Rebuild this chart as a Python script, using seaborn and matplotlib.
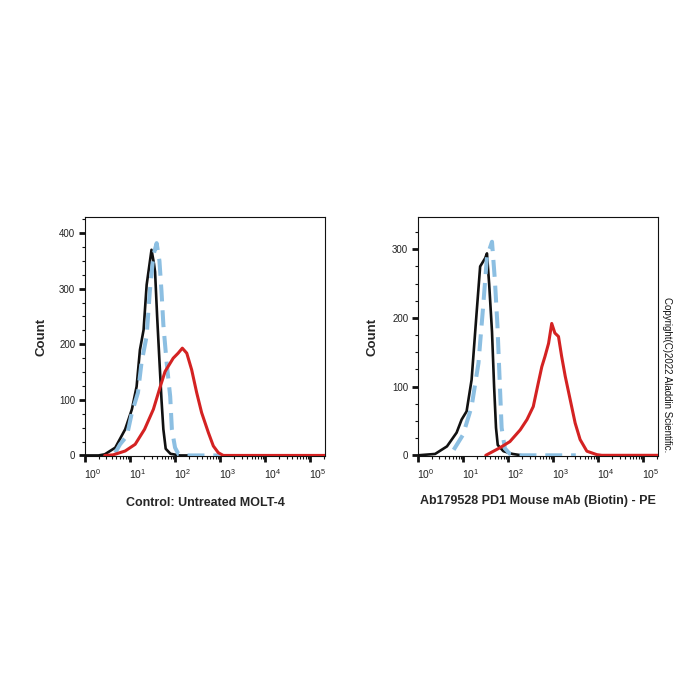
import numpy as np
import pandas as pd
import seaborn as sns
import matplotlib
matplotlib.use("Agg")
import matplotlib.pyplot as plt
from matplotlib.ticker import LogLocator, LogFormatterMathtext, MultipleLocator, NullFormatter
from matplotlib.transforms import ScaledTranslation

# ---------------- data (fluorescence intensity, cell count) ----------------
left_black_x = [1, 2.0, 2.75, 4.7, 7.8, 11, 14, 16.6, 20, 23.4, 30, 34, 36, 40, 45, 50, 55, 62, 79, 126, 200]
left_black_y = [0, 0, 2, 14, 47, 83, 124, 190, 226, 307, 370, 345, 330, 250, 170, 100, 47, 12, 3, 0, 0]

left_blue_x = [4.7, 6.0, 8.5, 11, 15, 18, 23.4, 27.5, 33, 39, 45, 50, 55, 65, 78, 85, 100, 120, 158, 1000]
left_blue_y = [5, 20, 35, 77, 113, 167, 215, 295, 360, 382, 350, 295, 235, 167, 106, 47, 14, 2, 0, 0]

left_red_x = [2.75, 4.2, 7.8, 13, 21, 33, 47, 60, 91, 117, 145, 182, 234, 302, 389, 550, 708, 912, 1175, 220000]
left_red_y = [0, 1, 8, 20, 47, 83, 124, 151, 175, 184, 193, 184, 154, 113, 77, 41, 17, 5, 0, 0]

right_black_x = [1, 2.4, 4.4, 7.2, 9.3, 12, 15.5, 20, 24, 31, 34, 38, 44, 49, 54, 59, 79, 126, 200]
right_black_y = [0, 2, 13, 33, 52, 64, 110, 207, 275, 287, 294, 250, 180, 100, 40, 15, 6, 2, 0]

right_blue_x = [6.2, 10, 15.5, 22, 28, 34, 44, 51, 58, 65, 72, 85, 110, 140, 3200]
right_blue_y = [8, 30, 71, 134, 217, 289, 311, 255, 190, 110, 40, 10, 2, 0, 0]

right_red_x = [32, 66, 110, 186, 263, 363, 468, 562, 661, 794, 933, 1096, 1318, 1549, 1862, 2399, 3090, 3981, 5623, 9333, 12000, 220000]
right_red_y = [0, 11, 20, 37, 52, 71, 105, 129, 144, 163, 192, 178, 173, 144, 115, 81, 47, 23, 6, 1, 0, 0]

left_xlabel = "Control: Untreated MOLT-4"
right_xlabel = "Ab179528 PD1 Mouse mAb (Biotin) - PE"
ylabel = "Count"
copyright_text = "Copyright(C)2022 Aladdin Scientific."

left_yticks = [0, 100, 200, 300, 400]
right_yticks = [0, 100, 200, 300]
xticks = [1e0, 1e1, 1e2, 1e3, 1e4, 1e5]

# ---------------- style ----------------
sns.set_style("ticks")
plt.rcParams["font.family"] = ["Liberation Sans", "DejaVu Sans"]
plt.rcParams["mathtext.default"] = "regular"

BLACK = "#111111"
BLUE = "#8cbfe2"
RED = "#d42222"

fig = plt.figure(figsize=(7, 7), dpi=100)
fig.patch.set_facecolor("white")

ax_l = fig.add_axes([85 / 700, 1 - 456 / 700, 240 / 700, 239 / 700])
ax_r = fig.add_axes([418 / 700, 1 - 456 / 700, 240 / 700, 239 / 700])


def draw_panel(ax, bx, by, ux, uy, rx, ry, ytop, yticks, xlabel, ylab_x, xlab_y):
    sns.lineplot(x=bx, y=by, ax=ax, color=BLACK, linewidth=1.9, sort=False, zorder=3)
    sns.lineplot(x=ux, y=uy, ax=ax, color=BLUE, linewidth=2.9, sort=False,
                 linestyle=(0, (4.2, 2.2)), zorder=4)
    sns.lineplot(x=rx, y=ry, ax=ax, color=RED, linewidth=2.2, sort=False, zorder=5)
    ax.set_xscale("log")
    ax.set_xlim(1, 10 ** 5.33)
    ax.set_ylim(-1, ytop)
    ax.set_xticks(xticks)
    ax.xaxis.set_major_formatter(LogFormatterMathtext())
    ax.xaxis.set_minor_locator(LogLocator(base=10, subs=np.arange(2, 10)))
    ax.xaxis.set_minor_formatter(NullFormatter())
    ax.set_yticks(yticks)
    ax.yaxis.set_minor_locator(MultipleLocator(25))
    for s in ax.spines.values():
        s.set_visible(True)
        s.set_linewidth(0.8)
        s.set_color("#111111")
    ax.tick_params(axis="both", which="major", direction="out", length=4, width=2.0,
                   labelsize=7, color="#111111", labelcolor="#222222")
    ax.tick_params(axis="y", which="major", pad=3)
    ax.tick_params(axis="x", which="major", pad=4, labelsize=7.5)
    ax.tick_params(axis="both", which="minor", direction="out", length=2.2, width=0.8,
                   color="#111111")
    offset = ScaledTranslation(-1 / 72, 0, fig.dpi_scale_trans)
    for lab in ax.get_xticklabels():
        lab.set_horizontalalignment("left")
        lab.set_transform(lab.get_transform() + offset)
    ax.set_xlabel(xlabel, fontsize=9, fontweight="bold")
    ax.xaxis.set_label_coords(0.5, xlab_y)
    ax.xaxis.label.set_va("top")
    ax.set_ylabel(ylabel, fontsize=9.5, fontweight="bold")
    ax.yaxis.set_label_coords(ylab_x, 0.5)


draw_panel(ax_l, left_black_x, left_black_y, left_blue_x, left_blue_y,
           left_red_x, left_red_y, 429, left_yticks, left_xlabel, -0.155, -0.17)
draw_panel(ax_r, right_black_x, right_black_y, right_blue_x, right_blue_y,
           right_red_x, right_red_y, 347, right_yticks, right_xlabel, -0.163, -0.163)

fig.text(667 / 700, 1 - 375 / 700, copyright_text, rotation=-90, ha="center",
         va="center", fontsize=7, color="#111111")

fig.savefig("out.png", dpi=100, facecolor="white")
